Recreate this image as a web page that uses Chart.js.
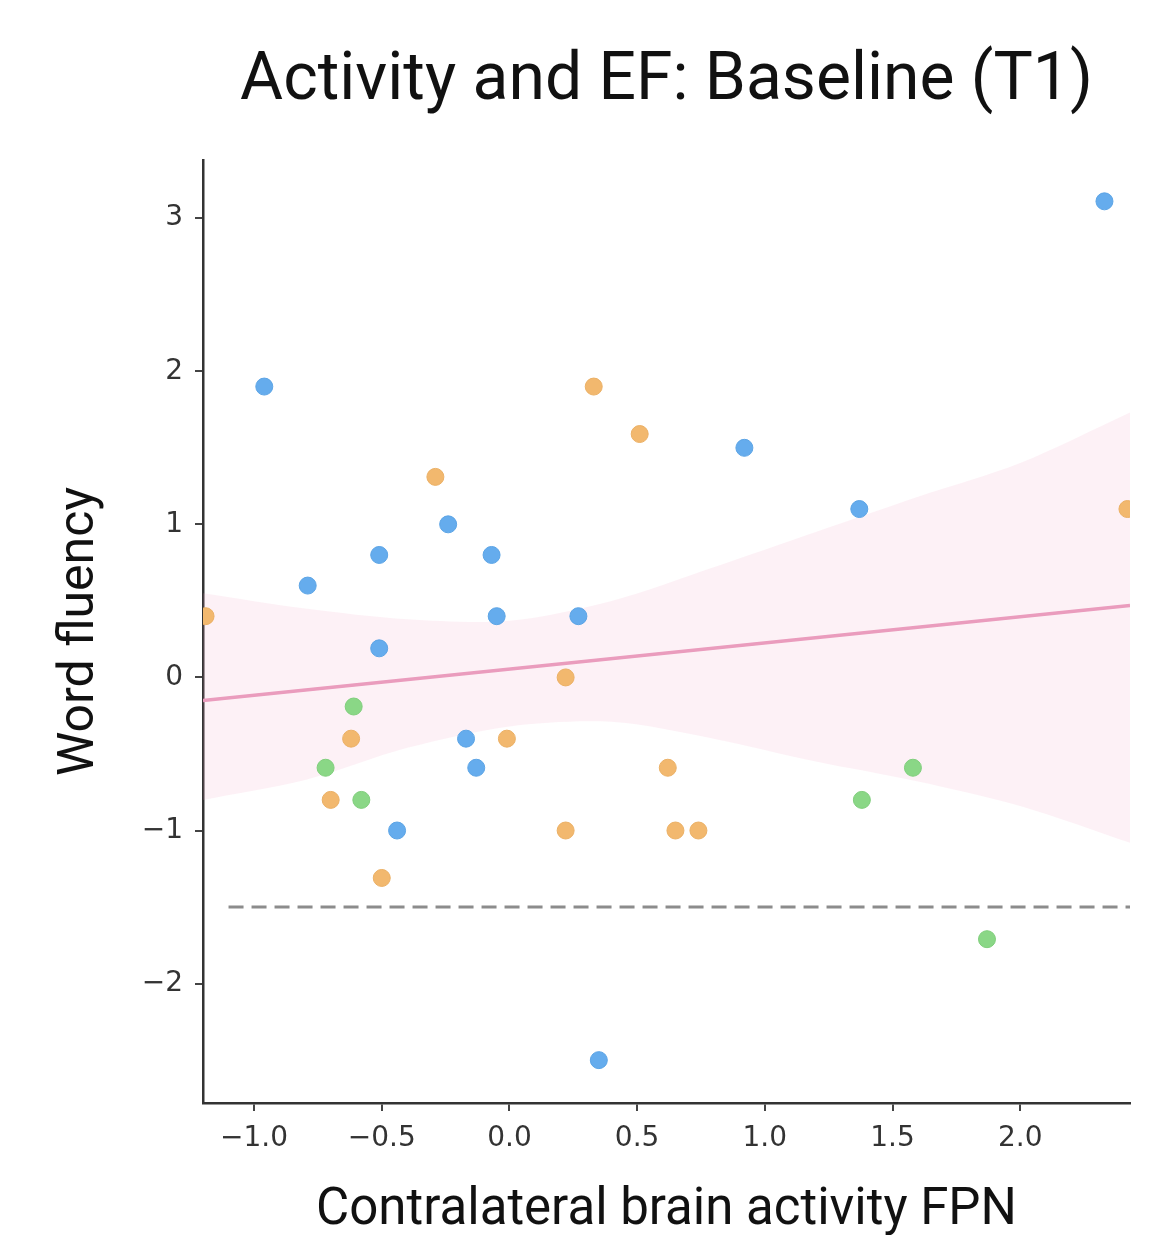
<!DOCTYPE html>
<html lang="en">
<head>
    <meta charset="UTF-8">
    <title>Activity and EF: Baseline (T1)</title>
    <script src="https://cdn.jsdelivr.net/npm/chart.js"></script>
    <style>
        html, body { margin: 0; padding: 0; background: #fff; }
        #wrap { width: 1155px; height: 1235px; }
    </style>
</head>
<body>
    <div id="wrap"><canvas id="fpnChart" width="1155" height="1235"></canvas></div>

    <script>
        // points, one group per colour
        const blueX = [2.33, -0.96, 0.92, 1.37, -0.24, -0.51, -0.07, -0.79, -0.05, 0.27, -0.51, -0.17, -0.13, -0.44, 0.35];
        const blueY = [3.11, 1.90, 1.50, 1.10, 1.00, 0.80, 0.80, 0.60, 0.40, 0.40, 0.19, -0.40, -0.59, -1.00, -2.50];

        const orangeX = [-1.19, 0.33, 0.51, -0.29, 2.42, 0.22, -0.62, -0.01, 0.62, -0.70, 0.22, 0.65, 0.74, -0.50];
        const orangeY = [0.40, 1.90, 1.59, 1.31, 1.10, 0.00, -0.40, -0.40, -0.59, -0.80, -1.00, -1.00, -1.00, -1.31];

        const greenX = [-0.61, -0.72, -0.58, 1.58, 1.38, 1.87];
        const greenY = [-0.19, -0.59, -0.80, -0.59, -0.80, -1.71];

        // regression line and its confidence band
        const fitX = [-1.2, 2.43];
        const fitY = [-0.15, 0.47];
        const bandX = [-1.2, -0.8, -0.4, 0, 0.4, 0.8, 1.2, 1.6, 2.0, 2.43];
        const bandUpper = [0.55, 0.45, 0.38, 0.37, 0.50, 0.72, 0.95, 1.18, 1.40, 1.73];
        const bandLower = [-0.80, -0.67, -0.46, -0.32, -0.29, -0.40, -0.55, -0.68, -0.84, -1.08];

        // cut-off line
        const cutX = [-1.1, 2.43];
        const cutY = [-1.5, -1.5];

        const xTicks = [-1.0, -0.5, 0.0, 0.5, 1.0, 1.5, 2.0];
        const yTicks = [-2, -1, 0, 1, 2, 3];

        const pts = (xs, ys) => xs.map((x, i) => ({ x: x, y: ys[i] }));
        const minus = s => String(s).replace('-', '\u2212');

        // big title centred over the plot area
        const titlePlugin = {
            id: 'plotTitle',
            afterDraw(chart) {
                const ctx = chart.ctx;
                const a = chart.chartArea;
                ctx.save();
                ctx.font = '66px Roboto';
                ctx.fillStyle = '#111';
                ctx.textAlign = 'center';
                ctx.textBaseline = 'alphabetic';
                ctx.fillText('Activity and EF: Baseline (T1)', (a.left + a.right) / 2, 99);
                ctx.restore();
            }
        };

        const scatterSet = (data, fill, edge) => ({
            data: data,
            backgroundColor: fill,
            borderColor: edge,
            borderWidth: 1,
            pointRadius: 8.5,
            pointHoverRadius: 8.5,
            clip: 0
        });

        const ctx = document.getElementById('fpnChart').getContext('2d');
        const fpnChart = new Chart(ctx, {
            type: 'scatter',
            data: {
                datasets: [
                    scatterSet(pts(blueX, blueY), '#65aced', '#5ca4e5'),
                    scatterSet(pts(orangeX, orangeY), '#f2b86e', '#ebb065'),
                    scatterSet(pts(greenX, greenY), '#8ad786', '#80ce7c'),
                    {
                        data: pts(fitX, fitY),
                        showLine: true,
                        borderColor: '#ea9cbd',
                        borderWidth: 3.5,
                        pointRadius: 0,
                        clip: 0
                    },
                    {
                        data: pts(cutX, cutY),
                        showLine: true,
                        borderColor: '#8c8c8c',
                        borderWidth: 3,
                        borderDash: [15, 8],
                        pointRadius: 0,
                        clip: 0
                    },
                    {
                        data: pts(bandX, bandUpper),
                        showLine: true,
                        borderWidth: 0,
                        borderColor: 'rgba(0,0,0,0)',
                        backgroundColor: 'rgba(240, 160, 195, 0.15)',
                        fill: '+1',
                        pointRadius: 0,
                        tension: 0.3,
                        clip: 0
                    },
                    {
                        data: pts(bandX, bandLower),
                        showLine: true,
                        borderWidth: 0,
                        borderColor: 'rgba(0,0,0,0)',
                        pointRadius: 0,
                        tension: 0.3,
                        fill: false,
                        clip: 0
                    }
                ]
            },
            options: {
                responsive: false,
                animation: false,
                layout: { padding: { top: 160, right: 25, left: 0, bottom: 0 } },
                plugins: {
                    legend: { display: false },
                    tooltip: { enabled: false }
                },
                scales: {
                    x: {
                        type: 'linear',
                        min: -1.2,
                        max: 2.43,
                        afterBuildTicks: s => { s.ticks = xTicks.map(v => ({ value: v })); },
                        afterFit: s => { s.height = 132; },
                        grid: { display: true, drawOnChartArea: false, tickLength: 8, tickColor: '#444', lineWidth: 2 },
                        border: { display: true, color: '#333', width: 2.5 },
                        ticks: {
                            color: '#333',
                            padding: 11,
                            maxRotation: 0,
                            font: { family: 'DejaVu Sans', size: 28 },
                            callback: v => minus(v.toFixed(1))
                        },
                        title: {
                            display: true,
                            text: 'Contralateral brain activity FPN',
                            color: '#111',
                            font: { family: 'Roboto', size: 51, lineHeight: 1 },
                            padding: { top: 0, bottom: -2 }
                        }
                    },
                    y: {
                        type: 'linear',
                        min: -2.78,
                        max: 3.38,
                        afterBuildTicks: s => { s.ticks = yTicks.map(v => ({ value: v })); },
                        afterFit: s => { s.width = 203; },
                        grid: { display: true, drawOnChartArea: false, tickLength: 8, tickColor: '#444', lineWidth: 2 },
                        border: { display: true, color: '#333', width: 2.5 },
                        ticks: {
                            color: '#333',
                            padding: 12,
                            font: { family: 'DejaVu Sans', size: 28 },
                            callback: v => minus(v)
                        },
                        title: {
                            display: true,
                            text: 'Word fluency',
                            color: '#111',
                            font: { family: 'Roboto', size: 50, lineHeight: 1 },
                            padding: { top: 55, bottom: 0 }
                        }
                    }
                }
            },
            plugins: [titlePlugin]
        });
    </script>
</body>
</html>
